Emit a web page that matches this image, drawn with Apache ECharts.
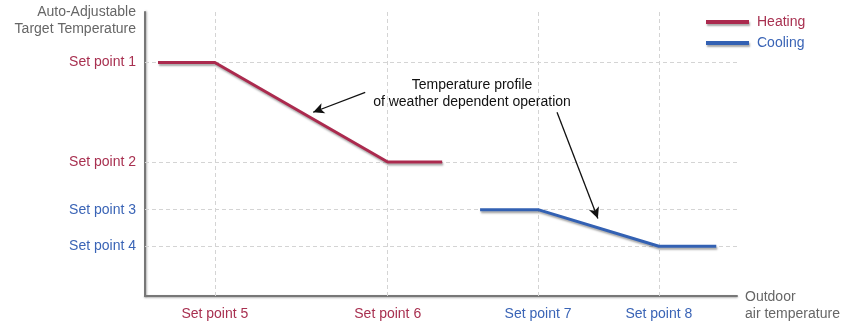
<!DOCTYPE html>
<html>
<head>
<meta charset="utf-8">
<script src="https://cdn.jsdelivr.net/npm/echarts@6/dist/echarts.min.js"></script>
<style>
  html, body { margin: 0; padding: 0; background: #fff; }
  #chart { width: 843px; height: 323px; }
</style>
</head>
<body>
<div id="chart"></div>
<script>
// Set-point positions on the two axes (arbitrary units, 0..100)
const xTickValues = [11.8, 41.0, 66.4, 86.8];
const xTickLabels = ['Set point 5', 'Set point 6', 'Set point 7', 'Set point 8'];
const yTickValues = [82.2, 47.2, 30.4, 17.5];
const yTickLabels = ['Set point 1', 'Set point 2', 'Set point 3', 'Set point 4'];

// Which set points belong to heating (true) or cooling (false)
const xTickIsHeating = [true, true, false, false];
const yTickIsHeating = [true, true, false, false];

// Weather-dependent temperature profiles
const heatingX = [2.2, 11.8, 41.0, 50.2];
const heatingY = [82.2, 82.2, 47.2, 47.2];
const coolingX = [56.6, 66.4, 86.8, 96.5];
const coolingY = [30.4, 30.4, 17.5, 17.5];

// Annotation arrows: [startX, startY, endX, endY]
const arrowHeating = [37.2, 71.7, 28.4, 64.7];
const arrowCooling = [69.6, 64.7, 76.5, 27.3];

const HEAT = '#ab2a4e';
const COOL = '#3361b3';
const HEAT_TXT = '#a83050';
const COOL_TXT = '#3a64b6';
const FONT = 'Liberation Sans, Arial, sans-serif';

const zip = (xs, ys) => xs.map((x, i) => [x, ys[i]]);

const lineShadow = {
  shadowColor: 'rgba(0,0,0,0.35)',
  shadowBlur: 2,
  shadowOffsetX: 1,
  shadowOffsetY: 2
};

const chart = echarts.init(document.getElementById('chart'), null, { renderer: 'canvas' });

const gridLineStyle = { color: '#d4d4d4', type: [4, 3], width: 1 };

chart.setOption({
  animation: false,
  textStyle: { fontFamily: FONT },
  grid: { left: 145, top: 12, width: 592, height: 286, containLabel: false },
  legend: {
    orient: 'vertical',
    left: 701,
    top: 10,
    itemWidth: 43,
    itemHeight: 4,
    itemGap: 7,
    icon: 'rect',
    textStyle: { fontSize: 14, fontFamily: FONT, padding: [0, 0, 0, 3] },
    itemStyle: lineShadow,
    data: [
      { name: 'Heating', textStyle: { color: HEAT_TXT } },
      { name: 'Cooling', textStyle: { color: COOL_TXT } }
    ]
  },
  xAxis: {
    type: 'value',
    min: 0,
    max: 100,
    name: 'Outdoor\nair temperature',
    nameLocation: 'end',
    nameGap: 8,
    nameTextStyle: { color: '#666', fontSize: 14, align: 'left', verticalAlign: 'top', lineHeight: 17, padding: [-7, 0, 0, 0] },
    axisLine: { show: true, lineStyle: { color: '#777', width: 2, shadowColor: 'rgba(0,0,0,0.3)', shadowBlur: 2, shadowOffsetY: 1 } },
    axisTick: { show: false },
    splitLine: { show: false },
    axisLabel: {
      customValues: xTickValues,
      fontSize: 14,
      margin: 11,
      formatter: (v) => {
        const i = xTickValues.indexOf(v);
        return i >= 0 ? xTickLabels[i] : '';
      },
      color: (v) => {
        const i = xTickValues.indexOf(Number(v));
        return i >= 0 && xTickIsHeating[i] ? HEAT_TXT : COOL_TXT;
      }
    }
  },
  yAxis: {
    type: 'value',
    min: 0,
    max: 100,
    name: 'Auto-Adjustable\nTarget Temperature',
    nameLocation: 'end',
    nameGap: 0,
    nameTextStyle: { color: '#666', fontSize: 14, align: 'right', verticalAlign: 'top', lineHeight: 17, padding: [-8, 9, 0, 0] },
    axisLine: { show: true, lineStyle: { color: '#777', width: 2, shadowColor: 'rgba(0,0,0,0.3)', shadowBlur: 2, shadowOffsetX: 1 } },
    axisTick: { show: false },
    splitLine: { show: false },
    axisLabel: {
      customValues: yTickValues,
      fontSize: 14,
      margin: 9,
      formatter: (v) => {
        const i = yTickValues.indexOf(v);
        return i >= 0 ? yTickLabels[i] : '';
      },
      color: (v) => {
        const i = yTickValues.indexOf(Number(v));
        return i >= 0 && yTickIsHeating[i] ? HEAT_TXT : COOL_TXT;
      }
    }
  },
  series: [
    {
      // dashed guide lines through every set point
      name: 'guides',
      type: 'line',
      data: [],
      silent: true,
      z: 1,
      zlevel: 0,
      markLine: {
        silent: true,
        symbol: 'none',
        label: { show: false },
        lineStyle: gridLineStyle,
        data: [
          ...yTickValues.map(v => ({ yAxis: v })),
          ...xTickValues.map(v => ({ xAxis: v }))
        ]
      }
    },
    {
      name: 'Heating',
      type: 'line',
      data: zip(heatingX, heatingY),
      showSymbol: false,
      symbol: 'none',
      color: HEAT,
      lineStyle: Object.assign({ width: 3, color: HEAT }, lineShadow),
      z: 3,
      zlevel: 1,
      markLine: {
        silent: true,
        symbol: ['none', 'arrow'],
        symbolSize: [8, 11],
        label: { show: false },
        lineStyle: { color: '#111', width: 1.3, type: 'solid' },
        data: [
          [{ coord: [arrowHeating[0], arrowHeating[1]] }, { coord: [arrowHeating[2], arrowHeating[3]] }],
          [{ coord: [arrowCooling[0], arrowCooling[1]] }, { coord: [arrowCooling[2], arrowCooling[3]] }]
        ]
      }
    },
    {
      name: 'Cooling',
      type: 'line',
      data: zip(coolingX, coolingY),
      showSymbol: false,
      symbol: 'none',
      color: COOL,
      lineStyle: Object.assign({ width: 3, color: COOL }, lineShadow),
      z: 3,
      zlevel: 1
    }
  ],
  graphic: [
    {
      type: 'text',
      x: 472,
      y: 77,
      zlevel: 1,
      style: {
        text: 'Temperature profile\nof weather dependent operation',
        fill: '#111',
        font: '14px ' + FONT,
        align: 'center',
        lineHeight: 17
      }
    }
  ]
});
</script>
</body>
</html>
